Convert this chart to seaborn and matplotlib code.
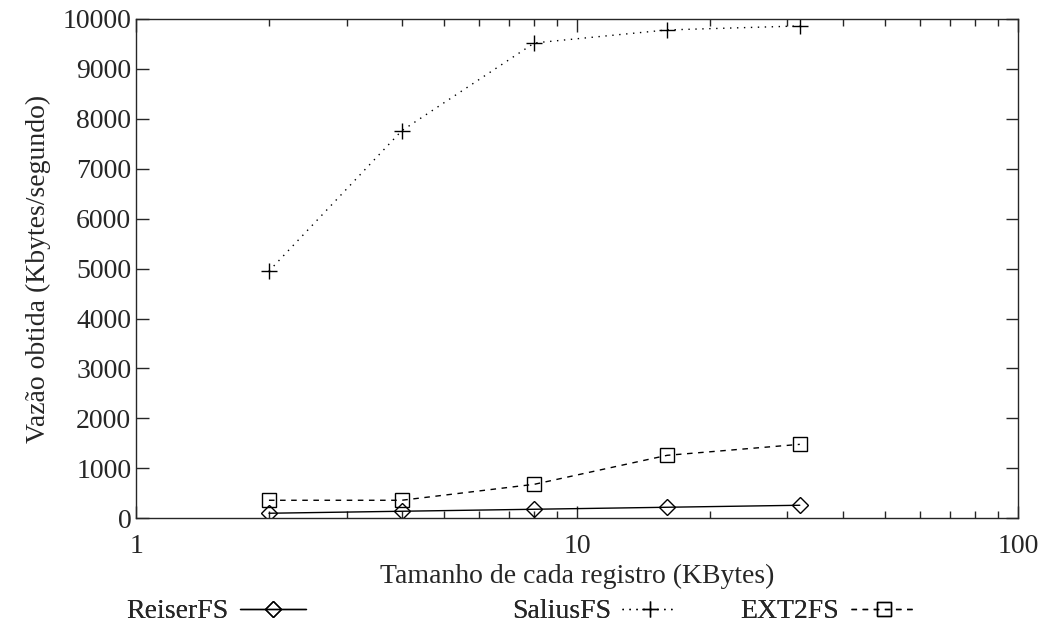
import pandas as pd
import matplotlib.pyplot as plt
import seaborn as sns

sns.set_style("ticks")
plt.rcParams["font.family"] = ["Liberation Serif", "DejaVu Serif"]

# dados
tamanho = [2, 4, 8, 16, 32]
reiserfs = [100, 140, 180, 220, 260]
saliusfs = [4950, 7760, 9520, 9780, 9860]
ext2fs = [360, 360, 680, 1260, 1480]

series = ["ReiserFS", "SaliusFS", "EXT2FS"]
valores = [reiserfs, saliusfs, ext2fs]
marcadores = ["D", "+", "s"]
estilos = ["-", (0, (1, 4)), (0, (4, 4))]
tamanhos = [8, 11, 10]

fig, ax = plt.subplots(figsize=(10.56, 6.32), dpi=100)
fig.subplots_adjust(left=0.129, right=0.964, top=0.97, bottom=0.18)

for nome, val, mk, ls, ms in zip(series, valores, marcadores, estilos, tamanhos):
    df = pd.DataFrame({"x": tamanho, "y": val})
    sns.lineplot(data=df, x="x", y="y", ax=ax, color="black", linewidth=1.0,
                 marker=mk, markersize=ms, markerfacecolor="none",
                 markeredgecolor="black", markeredgewidth=1.0,
                 label=nome, dashes=False)
    ax.lines[-1].set_linestyle(ls)

ax.set_xscale("log")
ax.set_xlim(1, 100)
ax.set_ylim(0, 10000)
ax.set_yticks(range(0, 10001, 1000))
ax.set_xticks([1, 10, 100])
ax.set_xticklabels(["1", "10", "100"])
ax.tick_params(which="both", direction="in", top=True, right=True, labelsize=20)
ax.tick_params(axis="x", pad=11)
ax.tick_params(which="major", length=9, width=1)
ax.tick_params(which="minor", length=5, width=1)
for s in ax.spines.values():
    s.set_linewidth(1.0)

ax.set_xlabel("Tamanho de cada registro (KBytes)", fontsize=20, labelpad=4)
ax.set_ylabel("Vazão obtida (Kbytes/segundo)", fontsize=20, labelpad=8)

# legenda em baixo, estilo gnuplot (texto antes da amostra)
ax.legend_.remove()
handles, labels = ax.get_legend_handles_labels()
posicoes = [0.205, 0.563, 0.785]
comprimentos = [2.4, 2.0, 2.4]
for h, l, px, hl in zip(handles, labels, posicoes, comprimentos):
    leg = fig.legend([h], [l], loc="center", frameon=False, markerfirst=False,
                     fontsize=20, handlelength=hl, handletextpad=0.4,
                     bbox_to_anchor=(px, 0.032))
    fig.add_artist(leg)

plt.savefig("out.png", dpi=100)
